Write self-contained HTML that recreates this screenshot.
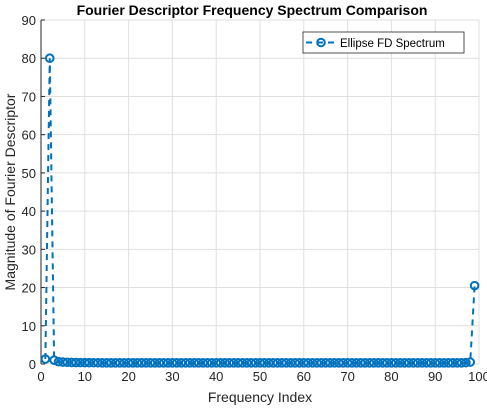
<!DOCTYPE html>
<html><head><meta charset="utf-8"><style>
body{margin:0;background:#fff;}
svg{display:block;font-family:"Liberation Sans",Arial,sans-serif;}
</style></head><body>
<svg id="c" width="487" height="408">
<rect width="487" height="408" fill="#fff"/>
<g id="grid"></g>
<g id="ticks"></g>
<g id="series"></g>
<text x="252" y="15" text-anchor="middle" font-size="14" font-weight="bold" fill="#000">Fourier Descriptor Frequency Spectrum Comparison</text>
<text x="260" y="402" text-anchor="middle" font-size="14" fill="#262626">Frequency Index</text>
<text transform="translate(15,192) rotate(-90)" text-anchor="middle" font-size="14" fill="#262626">Magnitude of Fourier Descriptor</text>
<g>
<rect x="303" y="32" width="161" height="21" fill="#fff" stroke="#262626" stroke-width="0.8"/>
<line x1="306" y1="42.5" x2="336" y2="42.5" stroke="#0072BD" stroke-width="2" stroke-dasharray="6,5"/>
<circle cx="321" cy="42.5" r="3.8" fill="none" stroke="#0072BD" stroke-width="2"/>
<text x="340" y="47" font-size="11.5" fill="#000">Ellipse FD Spectrum</text>
</g>
</svg>
<script>
const xTicks=[0,10,20,30,40,50,60,70,80,90,100];
const yTicks=[0,10,20,30,40,50,60,70,80,90];
const xIdx=[];for(let i=1;i<=99;i++)xIdx.push(i);
const mags=[1.3,80,1.0,0.6,0.5,0.45,0.4,0.38,0.36,0.35,0.34,0.33,0.32,0.31,0.3,0.3,0.3,0.3,0.3,0.3,
0.3,0.3,0.3,0.3,0.3,0.3,0.3,0.3,0.3,0.3,0.3,0.3,0.3,0.3,0.3,0.3,0.3,0.3,0.3,0.3,
0.3,0.3,0.3,0.3,0.3,0.3,0.3,0.3,0.3,0.3,0.3,0.3,0.3,0.3,0.3,0.3,0.3,0.3,0.3,0.3,
0.3,0.3,0.3,0.3,0.3,0.3,0.3,0.3,0.3,0.3,0.3,0.3,0.3,0.3,0.3,0.3,0.3,0.3,0.3,0.3,
0.3,0.3,0.3,0.3,0.3,0.3,0.3,0.3,0.3,0.3,0.3,0.3,0.3,0.3,0.3,0.3,0.35,0.5,20.5];
const L=41,R=479,T=20,B=364;
const sx=v=>L+(v-0)/(100-0)*(R-L);
const sy=v=>B-(v-0)/(90-0)*(B-T);
const NS="http://www.w3.org/2000/svg";
function mk(t,a,p){const e=document.createElementNS(NS,t);for(const k in a)e.setAttribute(k,a[k]);p.appendChild(e);return e;}
const g=document.getElementById('grid'),tk=document.getElementById('ticks'),s=document.getElementById('series');
mk('rect',{x:L,y:T,width:R-L,height:B-T,fill:'#fff',stroke:'none'},g);
xTicks.forEach(v=>{
 const l=mk('line',{x1:sx(v),x2:sx(v),y1:T,y2:B,stroke:'#dfdfdf','stroke-width':1},g);
 
 
 const t=mk('text',{x:sx(v),y:B+17,'text-anchor':'middle','font-size':13,fill:'#262626'},tk);
 t.textContent=v;
 
 
});
yTicks.forEach(v=>{
 const l=mk('line',{x1:L,x2:R,y1:sy(v),y2:sy(v),stroke:'#dfdfdf','stroke-width':1},g);
 
 
 mk('line',{x1:L,x2:L+4,y1:sy(v),y2:sy(v),stroke:'#262626'},tk);
 const t=mk('text',{x:L-5,y:sy(v)+5,'text-anchor':'end','font-size':13,fill:'#262626'},tk);
 t.textContent=v;
 
 
});
const ax=mk('line',{x1:L,x2:L,y1:T,y2:B,stroke:'#262626','stroke-width':1},tk);


const pts=xIdx.map((x,i)=>sx(x)+','+sy(mags[i])).join(' ');
const pl=mk('polyline',{points:pts,fill:'none',stroke:'#0072BD','stroke-width':2,'stroke-dasharray':'6,5'},s);


xIdx.forEach((x,i)=>{
 const c=mk('circle',{cx:sx(x),cy:sy(mags[i]),r:3.8,fill:'none',stroke:'#0072BD','stroke-width':2},s);
 
 
});
</script>
</body></html>
